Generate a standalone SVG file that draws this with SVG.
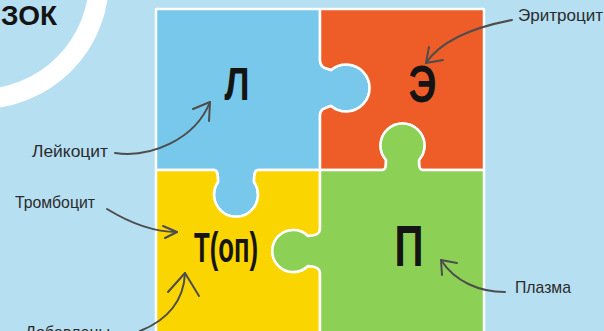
<svg xmlns="http://www.w3.org/2000/svg" width="604" height="331" viewBox="0 0 604 331">
<style>
.piece{stroke:#ffffff;stroke-width:2.5;stroke-linejoin:round}
.big{font-family:"Liberation Sans",Arial,sans-serif;font-weight:bold;fill:#141414}
.lbl{font-family:"Liberation Sans",Arial,sans-serif;font-size:17px;fill:#2b2b2b}
.arr{fill:none;stroke:#4d4d4d;stroke-width:2;stroke-linecap:round;stroke-linejoin:round}
</style>
<rect x="0" y="0" width="604" height="331" fill="#b6dff2"/>
<circle cx="-20" cy="-20" r="119" fill="none" stroke="#ffffff" stroke-width="20"/>
<text x="1" y="25" class="big" font-size="28" textLength="56" lengthAdjust="spacingAndGlyphs" fill="#1c2430">ЗОК</text>

<g id="piece-L">
<path class="piece" fill="#78c8ec" d="M156,9 H320 V60 C320,68 326,68 331,70 A23.5,23.5 0 1 1 331,106 C326,108 320,108 320,116 V170 H258 C254,170 254,176 254,182 A22,22 0 1 1 218,182 C218,176 218,170 214,170 H156 Z"/>
<text x="237" y="100" class="big" font-size="47" text-anchor="middle" textLength="25" lengthAdjust="spacingAndGlyphs">Л</text>
</g>
<g id="piece-E">
<path class="piece" fill="#ee5d27" d="M320,9 H484 V170 H423 C419,170 419,166 419,160 A22,22 0 1 0 386,160 C386,166 386,170 382,170 H320 V116 C320,108 326,108 331,106 A23.5,23.5 0 1 0 331,70 C326,68 320,68 320,60 Z"/>
<text x="422.5" y="102" class="big" font-size="51" text-anchor="middle" textLength="28" lengthAdjust="spacingAndGlyphs">Э</text>
</g>
<g id="piece-T">
<path class="piece" fill="#fbd500" d="M156,170 H214 C218,170 218,176 218,182 A22,22 0 1 0 254,182 C254,176 254,170 258,170 H320 V229 C320,234 314,236 308,236 A21,21 0 1 0 308,266 C314,266 320,268 320,273 V335 H156 Z"/>
<text x="226" y="262" class="big" font-size="43" text-anchor="middle" textLength="64" lengthAdjust="spacingAndGlyphs">Т(оп)</text>
</g>
<g id="piece-P">
<path class="piece" fill="#8dd056" d="M320,170 H382 C386,170 386,166 386,160 A22,22 0 1 1 419,160 C419,166 419,170 423,170 H484 V335 H320 V273 C320,268 314,266 308,266 A21,21 0 1 1 308,236 C314,236 320,234 320,229 Z"/>
<text x="409" y="266" class="big" font-size="57" text-anchor="middle" textLength="29" lengthAdjust="spacingAndGlyphs">П</text>
</g>

<g id="labels">
<text x="518" y="21" class="lbl" textLength="85" lengthAdjust="spacingAndGlyphs">Эритроцит</text>
<text x="32" y="157" class="lbl" textLength="76" lengthAdjust="spacingAndGlyphs">Лейкоцит</text>
<text x="15" y="208" class="lbl" textLength="80" lengthAdjust="spacingAndGlyphs">Тромбоцит</text>
<text x="515" y="293" class="lbl" textLength="56" lengthAdjust="spacingAndGlyphs">Плазма</text>
<text x="25" y="338" class="lbl" textLength="85" lengthAdjust="spacingAndGlyphs">Добавлены</text>
</g>

<g id="connectors">
<path class="arr" d="M115,153 C150,158 195,140 210,102"/>
<path class="arr" d="M193,109 L210,102 L209,121"/>
<path class="arr" d="M512,20 C470,28 440,42 426,63"/>
<path class="arr" d="M429,47 L426,63 L443,60"/>
<path class="arr" d="M107,209 C125,220 150,232 177,232"/>
<path class="arr" d="M163,226 L177,232 L165,238"/>
<path class="arr" d="M140,331 C168,320 184,300 185,273"/>
<path class="arr" d="M168,292 L185,273 L199,296"/>
<path class="arr" d="M505,292 C480,292 455,282 441,260"/>
<path class="arr" d="M457,263 L441,260 L442,275"/>
</g>
</svg>
